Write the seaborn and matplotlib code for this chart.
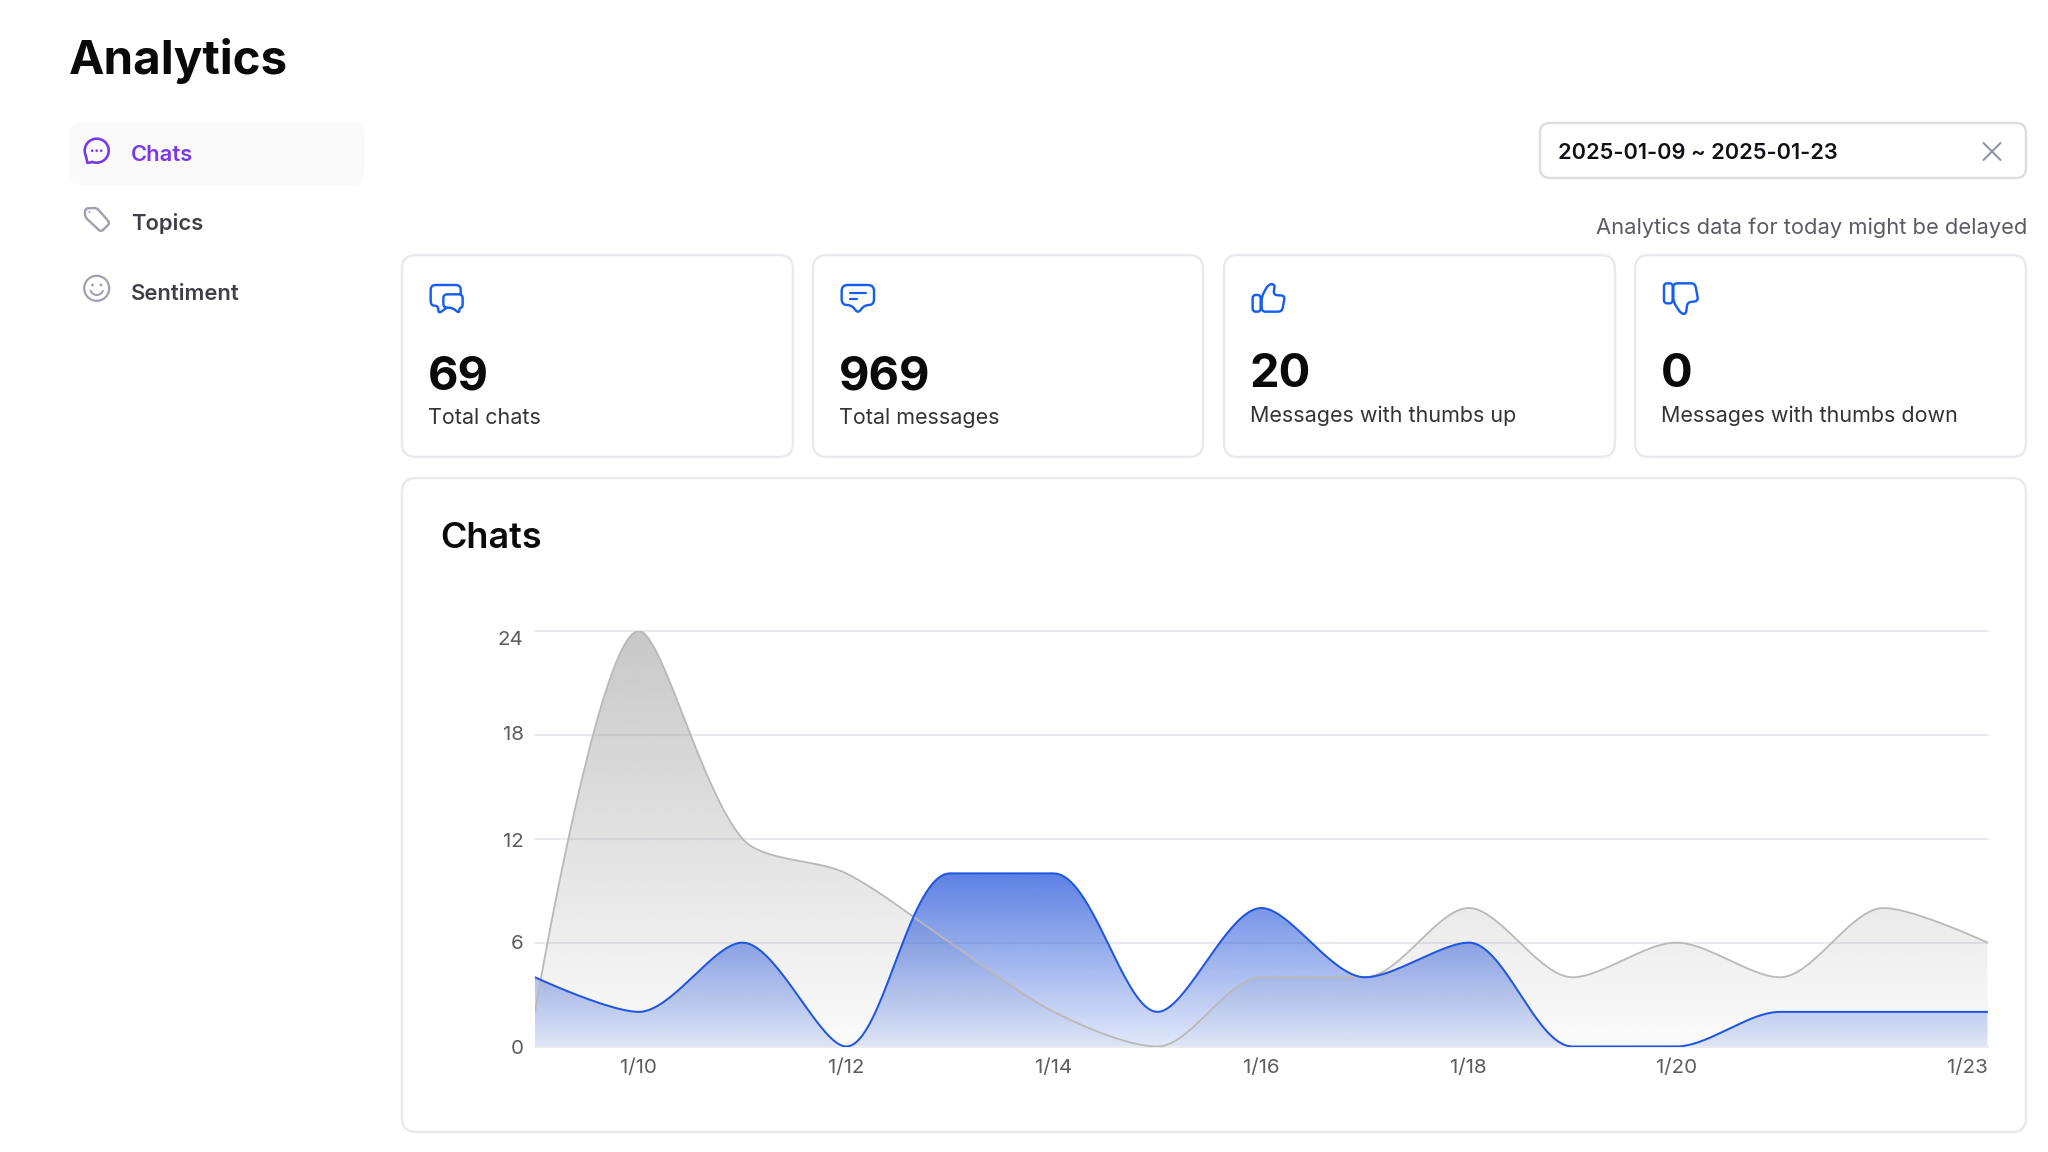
import numpy as np
import pandas as pd
import matplotlib
matplotlib.use("Agg")
import matplotlib.pyplot as plt
import seaborn as sns
from matplotlib.patches import FancyBboxPatch, PathPatch, Circle
from matplotlib.path import Path
from matplotlib.transforms import ScaledTranslation

dates = ["1/9","1/10","1/11","1/12","1/13","1/14","1/15","1/16","1/17","1/18","1/19","1/20","1/21","1/22","1/23"]
gray_values = [2,24,12,10,6,2,0,4,4,8,4,6,4,8,6]
blue_values = [4,2,6,0,10,10,2,8,4,6,0,0,2,2,2]
y_ticks = [0,6,12,18,24]
x_tick_labels = ["1/10","1/12","1/14","1/16","1/18","1/20","1/23"]
card_values = ["69","969","20","0"]
card_labels = ["Total chats","Total messages","Messages with thumbs up","Messages with thumbs down"]
nav_labels = ["Chats","Topics","Sentiment"]

sns.set_theme(style="white")
plt.rcParams['font.family'] = ['Inter','DejaVu Sans']

W, H = 2048, 1152
fig = plt.figure(figsize=(W/100, H/100), dpi=100, facecolor="white")
bg = fig.add_axes([0,0,1,1], zorder=0)
bg.set_xlim(0,W); bg.set_ylim(H,0); bg.axis("off")

def fs(px): return px*0.72
def lw(px): return px*0.72

def box(x0,y0,x1,y1,r,fc="white",ec="#e9eaed",l=2.4):
    bg.add_patch(FancyBboxPatch((x0+r,y0+r),x1-x0-2*r,y1-y0-2*r,boxstyle=f"round,pad={r},rounding_size={r}",
                                fc=fc,ec=ec,lw=lw(l)))

def rpoly(pts, r=4, closed=True):
    pts=[np.array(p,float) for p in pts]
    n=len(pts); verts=[]; codes=[]
    idx=range(n) if closed else range(1,n-1)
    if not closed:
        verts.append(pts[0]); codes.append(Path.MOVETO)
    for i in idx:
        p=pts[i]; a=pts[(i-1)%n]; b=pts[(i+1)%n]
        ra=min(r,np.linalg.norm(a-p)/2); rb=min(r,np.linalg.norm(b-p)/2)
        s=p+(a-p)/np.linalg.norm(a-p)*ra; e=p+(b-p)/np.linalg.norm(b-p)*rb
        verts.append(s); codes.append(Path.MOVETO if (closed and not verts[:-1]) else Path.LINETO)
        verts+= [p,e]; codes+=[Path.CURVE3,Path.CURVE3]
    if closed:
        verts.append(verts[0]); codes.append(Path.CLOSEPOLY)
    else:
        verts.append(pts[-1]); codes.append(Path.LINETO)
    return Path(verts,codes)

def stroke(path,color,l=2.4):
    bg.add_patch(PathPatch(path,fc="none",ec=color,lw=lw(l),capstyle="round",joinstyle="round"))

# Page title & sidebar
bg.text(69,74,"Analytics",fontsize=fs(47.5),fontweight="bold",color="#0a0a0a",va="baseline")
box(69.5,123,364,185,12,fc="#fafafa",ec="#fafafa",l=0.5)
nav_colors=["#7839EE","#3f3f48","#3f3f48"]
for lab,b,c in zip(nav_labels,[161,230.5,300],nav_colors):
    bg.text(131,b,lab,fontsize=fs(22),fontweight="semibold",color=c,va="baseline")

purple="#7839EE"; grayi="#a0a0ae"; blue="#155EEF"
# chat icon
th=np.radians(np.linspace(-110,205,60))
cx,cy=96.7,150.7
bx=cx+12*np.cos(th); by=cy-12*np.sin(th)
stroke(Path(np.column_stack([bx,by]).tolist()+[[87.5,163],[bx[0],by[0]]]),purple,2.6)
for dx in (-4.5,0,4.5):
    bg.add_patch(Circle((cx+dx,cy),1.3,fc=purple,ec="none"))
# tag icon
stroke(rpoly([(85,208.5),(96.7,207.8),(110,223),(101,232),(85,217)],3),grayi,2.4)
bg.add_patch(Circle((89.5,212),1.0,fc=grayi,ec="none"))
# smile icon
bg.add_patch(Circle((96.7,288.3),12.5,fc="none",ec=grayi,lw=lw(2.2)))
for dx in (-4.2,4.2):
    bg.add_patch(Circle((96.7+dx,285),1.4,fc=grayi,ec="none"))
ma=np.radians(np.linspace(200,340,20))
stroke(Path(np.column_stack([96.7+6.5*np.cos(ma),288.5-6.5*np.sin(ma)])),grayi,2.0)

# Date picker
box(1540,123,2026,178,10,ec="#dcdde1",l=2.4)
bg.text(1558.5,159,"2025-01-09 ~ 2025-01-23",fontsize=fs(21.8),fontweight="semibold",color="#101018",va="baseline")
bg.plot([1983.5,2000.5],[143,160],color="#8a93a3",lw=lw(2)); bg.plot([1983.5,2000.5],[160,143],color="#8a93a3",lw=lw(2))
bg.text(2027,234,"Analytics data for today might be delayed",fontsize=fs(21.9),color="#5b5b66",ha="right",va="baseline")

# Cards
card_x=[(402,793),(813,1203),(1224,1615),(1635,2026)]
num_b=[389,389,387,387]; lab_b=[424,424,422,422]
for (x0,x1),v,l,nb,lb in zip(card_x,card_values,card_labels,num_b,lab_b):
    box(x0,255,x1,457,14)
    bg.text(x0+25.5,nb,v,fontsize=fs(47),fontweight="bold",color="#0a0a0a",va="baseline")
    bg.text(x0+26,lb,l,fontsize=fs(21.5),color="#333338",va="baseline")

def zc(ox,oy,pts): return [(ox+x/3,oy+y/3) for x,y in pts]
# bubbles
stroke(rpoly(zc(420,270,[(122,72),(122,45),(32,45),(32,107),(55,107),(55,132),(80,113)]),5,closed=False),blue)
stroke(rpoly(zc(420,270,[(70,73),(128,73),(128,113),(118,113),(118,130),(97,113),(70,113)]),4),blue)
# message
stroke(rpoly(zc(420,270,[(1265,45),(1362,45),(1362,105),(1332,105),(1314,132),(1296,105),(1265,105)]),6),blue)
stroke(Path(zc(420,270,[(1290,70),(1338,70)])),blue,2.2); stroke(Path(zc(420,270,[(1290,86),(1312,86)])),blue,2.2)
# thumbs
stroke(rpoly(zc(1240,275,[(38,60),(62,60),(62,110),(38,110)]),3),blue)
stroke(rpoly(zc(1240,275,[(65,65),(85,28),(105,27),(100,60),(135,62),(126,110),(65,110)]),4),blue)
stroke(rpoly(zc(1240,275,[(1272,25),(1298,25),(1298,85),(1272,85)]),3),blue)
stroke(rpoly(zc(1240,275,[(1300,25),(1365,25),(1375,78),(1342,82),(1338,118),(1322,115),(1300,80)]),4),blue)

# Chart card
box(402,478,2026,1132,14)
bg.text(440,548,"Chats",fontsize=fs(36),fontweight="semibold",color="#0a0a0a",va="baseline")

# Chart
px0,px1,py0,py1=535,1987.5,631,1046.5
ax=fig.add_axes([px0/W,1-py1/H,(px1-px0)/W,(py1-py0)/H],zorder=1)
ax.patch.set_alpha(0)
xs=np.arange(len(dates),dtype=float)
x_scale=(px1-px0)/(len(dates)-1); y_scale=(py1-py0)/24

def smooth_curve(xv,yv,smooth=0.3,per=40):
    """Same rounding as a monotone-limited spline, worked out in pixel space."""
    P=np.column_stack([np.asarray(xv)*x_scale,np.asarray(yv,float)*y_scale]); n=len(P)
    c1=[None]*n; c0=[None]*n
    for i in range(n):
        if i==0:
            c0[0]=P[0]; continue
        if i==n-1:
            c1[i]=P[i]; continue
        p,q,r=P[i-1],P[i],P[i+1]
        v=r-p
        lp=np.linalg.norm(q-p); ln=np.linalg.norm(r-q)
        ratio=ln/(ln+lp)
        nx=q+v*smooth*ratio
        nx=np.minimum(nx,np.maximum(r,q)); nx=np.maximum(nx,np.minimum(r,q))
        v=nx-q
        cp=q-v*lp/ln
        cp=np.minimum(cp,np.maximum(p,q)); cp=np.maximum(cp,np.minimum(p,q))
        v=q-cp
        nx=q+v*ln/lp
        c1[i]=cp; c0[i]=nx
    out=[]
    t=np.linspace(0,1,per)[:,None]
    for i in range(n-1):
        a,b,c,d=P[i],c0[i],c1[i+1],P[i+1]
        out.append((1-t)**3*a+3*(1-t)**2*t*b+3*(1-t)*t**2*c+t**3*d)
    out=np.vstack(out)
    return out[:,0]/x_scale,out[:,1]/y_scale

def gradient_fill(xc,yc,rgb,top,a_top,a_bot,z):
    poly=ax.fill_between(xc,yc,0,facecolor="none",edgecolor="none")
    g=np.zeros((256,1,4)); g[...,:3]=matplotlib.colors.to_rgb(rgb)
    g[...,3]=np.linspace(a_top,a_bot,256)[:,None]
    im=ax.imshow(g,extent=[xs[0],xs[-1],0,top],aspect="auto",interpolation="bilinear",zorder=z,origin="upper")
    im.set_clip_path(poly.get_paths()[0],transform=ax.transData)

gx,gy=smooth_curve(xs,gray_values)
bx2,by2=smooth_curve(xs,blue_values)
gradient_fill(gx,gy,"#8c8c8c",24,0.48,0.03,2)
gradient_fill(bx2,by2,"#1D4ED8",10,0.72,0.13,3)
sns.lineplot(data=pd.DataFrame({"x":gx,"y":gy}),x="x",y="y",sort=False,estimator=None,color="#b9b9b9",lw=lw(1.8),ax=ax,zorder=4)
sns.lineplot(data=pd.DataFrame({"x":bx2,"y":by2}),x="x",y="y",sort=False,estimator=None,color="#1f55e0",lw=lw(2),ax=ax,zorder=5)

ax.set_xlim(xs[0],xs[-1]); ax.set_ylim(0,24)
ax.set_xlabel(""); ax.set_ylabel("")
sns.despine(ax=ax,left=True,bottom=True,top=True,right=True)
ax.set_yticks(y_ticks); ax.set_yticklabels([str(v) for v in y_ticks])
ax.set_xticks([dates.index(l) for l in x_tick_labels]); ax.set_xticklabels(x_tick_labels)
ax.tick_params(axis="y",length=0,pad=8.2,labelsize=fs(20.5),labelcolor="#5c5c5c")
ax.tick_params(axis="x",length=0,pad=8.8,labelsize=fs(20.5),labelcolor="#5c5c5c")
ax.grid(axis="y",color="#eaebef",lw=lw(2)); ax.grid(axis="x",visible=False)
ax.set_axisbelow(True)
for gl in ax.get_ygridlines(): gl.set_clip_on(False)
for lab,dy in zip(ax.get_yticklabels(),[0,-1,1.5,-1.5,7]):
    lab.set_transform(lab.get_transform()+ScaledTranslation(0,-dy/100,fig.dpi_scale_trans))
ax.get_xticklabels()[-1].set_ha("right")

fig.savefig("out.png",dpi=100,facecolor="white")
